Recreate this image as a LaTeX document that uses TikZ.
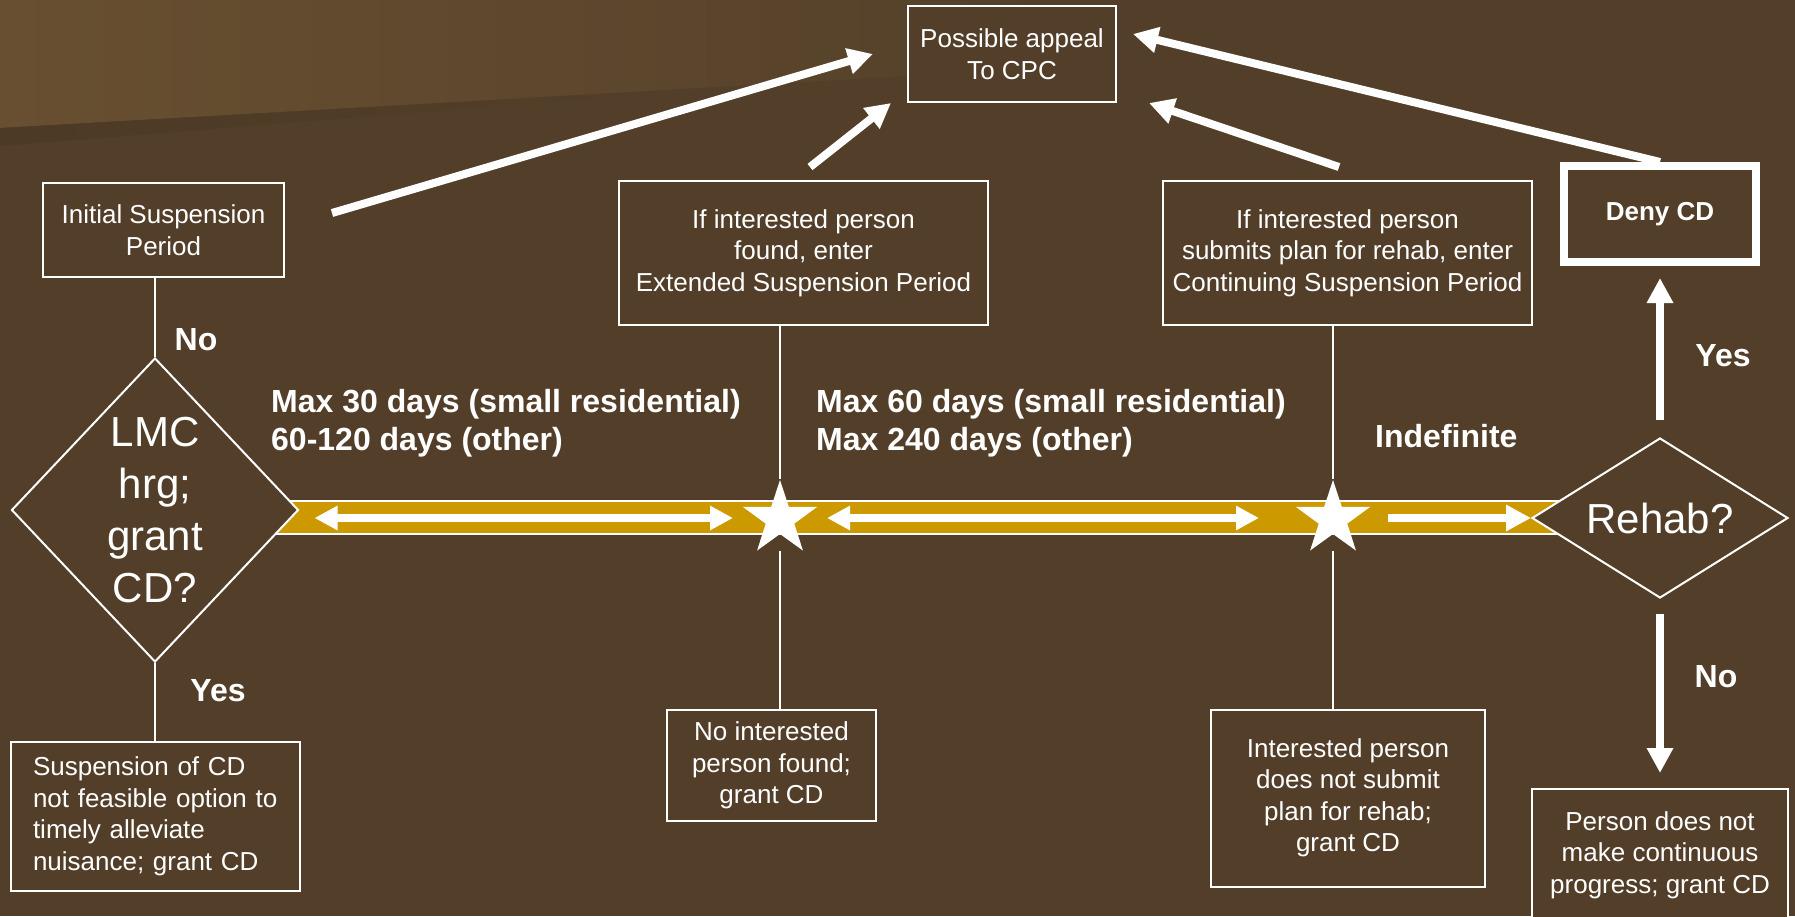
\documentclass[tikz,border=0pt]{standalone}
\usepackage{fontspec}
\setmainfont{Liberation Sans}
\usepackage{tikz}
\usetikzlibrary{shapes.geometric,arrows.meta,calc}

\definecolor{bgbrown}{RGB}{83,63,41}
\definecolor{topbrown}{RGB}{104,79,49}
\definecolor{shadebrown}{RGB}{76,58,38}
\definecolor{bandgold}{RGB}{204,153,0}

\newcommand{\boxtext}{\fontsize{26}{31.5}\selectfont}
\newcommand{\daystext}{\fontsize{32}{38}\selectfont\bfseries}
\newcommand{\asktext}{\fontsize{42}{52}\selectfont}

\begin{document}
\begin{tikzpicture}[x=1pt, y=-1pt,
    textbox/.style={shape=rectangle, draw=white, line width=2pt, fill=bgbrown, text=white, align=center, font=\boxtext, inner sep=0pt},
    askbox/.style={shape=diamond, draw=white, line width=2pt, fill=bgbrown, text=white, align=center, font=\asktext, inner sep=0pt},
    daylabel/.style={text=white, align=left, font=\daystext, inner sep=0pt, anchor=west},
    starmark/.style={shape=star, star points=5, star point ratio=2.6, fill=white, minimum size=78pt, inner sep=0pt},
    thinline/.style={draw=white, line width=2pt},
    fatarrow/.style={color=white, line width=8pt, -{Triangle[length=25pt,width=25pt]}},
    dblarrow/.style={color=white, line width=8pt, {Triangle[length=23pt,width=23pt]}-{Triangle[length=23pt,width=23pt]}}]
    \useasboundingbox (0,0) rectangle (1795,916);
    \clip (0,0) rectangle (1795,916);

    % background
    \fill[bgbrown] (0,0) rectangle (1795,916);
    \shade[left color=topbrown, right color=bgbrown] (0,0) -- (1100,0) -- (1100,65) -- (0,128) -- cycle;
    \shade[left color=shadebrown, right color=bgbrown] (0,128) -- (750,86) -- (0,146) -- cycle;

    % time line
    \fill[bandgold] (260,501) rectangle (1590,534);
    \draw[thinline] (260,501) -- (1590,501) (260,534) -- (1590,534);

    \node[textbox, minimum width=208pt, minimum height=96pt] (appeal) at (1012,54) {Possible appeal\\To CPC};
    \node[textbox, minimum width=241pt, minimum height=94pt] (init) at (163.5,230) {Initial Suspension\\Period};
    \node[textbox, minimum width=369pt, minimum height=144pt] (ext) at (803.5,253) {If interested person\\found, enter\\Extended Suspension Period};
    \node[textbox, minimum width=369pt, minimum height=144pt] (cont) at (1347.5,253) {If interested person\\submits plan for rehab, enter\\Continuing Suspension Period};
    \node[textbox, line width=8pt, font=\boxtext\bfseries, minimum width=192pt, minimum height=96pt] (deny) at (1660,214) {Deny CD};

    \node[askbox, aspect=0.95, minimum width=287pt, minimum height=304pt] (lmc) at (155,510) {LMC\\hrg;\\grant\\CD?};
    \node[askbox, aspect=1.6, minimum width=256pt, minimum height=160pt] (rehab) at (1660,518) {Rehab?};
    \node[starmark] (star1) at (780,519) {};
    \node[starmark] (star2) at (1333,519) {};

    \node[textbox, align=left, text width=245pt, inner xsep=22pt, minimum width=289pt, minimum height=149pt] (feasible) at (155.5,816.5) {Suspension of CD\\not feasible option to\\timely alleviate\\nuisance; grant CD};
    \node[textbox, minimum width=209pt, minimum height=111pt] (noone) at (771.5,765.5) {No interested\\person found;\\grant CD};
    \node[textbox, minimum width=274pt, minimum height=177pt] (noplan) at (1348,798) {Interested person\\does not submit\\plan for rehab;\\grant CD};
    \node[textbox, minimum width=256pt, minimum height=132pt] (noprogress) at (1660,855) {Person does not\\make continuous\\progress; grant CD};

    \node[daylabel] (days1) at (271,423) {Max 30 days (small residential)\\60-120 days (other)};
    \node[daylabel] (days2) at (816,423) {Max 60 days (small residential)\\Max 240 days (other)};
    \node[daylabel] (days3) at (1375,436) {Indefinite};
    \node[daylabel, anchor=center] (lmcno) at (196,340) {No};
    \node[daylabel, anchor=center] (lmcyes) at (218,691) {Yes};
    \node[daylabel, anchor=center] (rehabyes) at (1723,356) {Yes};
    \node[daylabel, anchor=center] (rehabno) at (1716,677) {No};

    \path[thinline] (init.south -| lmc.north) edge (lmc.north);
    \path[thinline] (lmc.south) edge (lmc.south |- feasible.north);
    \path[thinline] (ext.south -| star1) edge (star1);
    \path[thinline] ($(star1)+(0,32)$) edge (star1 |- noone.north);
    \path[thinline] (cont.south -| star2) edge (star2);
    \path[thinline] ($(star2)+(0,32)$) edge (star2 |- noplan.north);

    \draw[dblarrow] ($(lmc.east |- star1)+(15,-1)$) -- ($(star1)+(-47,-1)$);
    \draw[dblarrow] ($(star1)+(47,-1)$) -- ($(star2)+(-74,-1)$);
    \draw[fatarrow] ($(star2)+(55,-1)$) -- (rehab.west);

    \draw[fatarrow] ($(rehab.north)+(0,-17)$) -- ($(deny.south)+(0,12)$);
    \draw[fatarrow] ($(rehab.south)+(0,15)$) -- ($(noprogress.north)+(0,-15)$);

    % appeals
    \coordinate (fromInit) at (332,213);
    \coordinate (toInit) at (873,54);
    \coordinate (fromExt) at (810,167);
    \coordinate (toExt) at (891,103);
    \coordinate (fromCont) at (1339,167);
    \coordinate (toCont) at (1149,103);
    \coordinate (toDeny) at (1133,34);
    \draw[fatarrow] (fromInit) -- (toInit);
    \draw[fatarrow] (fromExt) -- (toExt);
    \draw[fatarrow] (fromCont) -- (toCont);
    \draw[fatarrow] (deny.north) -- (toDeny);
\end{tikzpicture}
\end{document}
